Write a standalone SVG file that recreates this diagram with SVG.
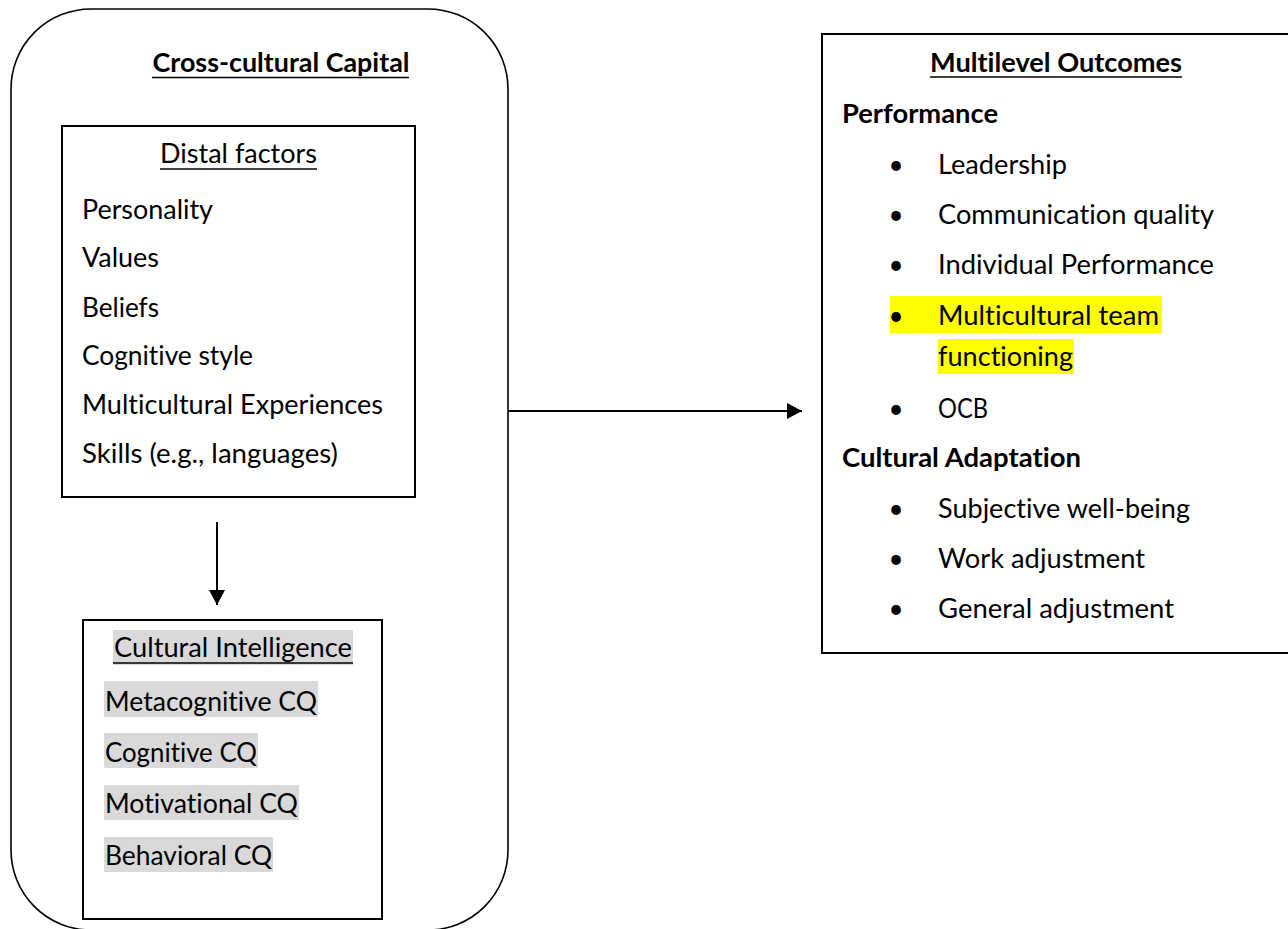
<svg xmlns="http://www.w3.org/2000/svg" width="1288" height="929" viewBox="0 0 1288 929">
<style>
  text { font-family: Lato, "Liberation Sans", sans-serif; font-size: 26px; fill: #000; font-variant-ligatures: none; }
  .b { font-weight: bold; }
  .mid { text-anchor: middle; }
  .box { fill: none; stroke: #000; stroke-width: 2; }
  .ul { stroke: #000; stroke-width: 1.5; }
  .conn { stroke: #000; stroke-width: 2; fill: none; marker-end: url(#arr); }
  .gray { fill: #D9D9D9; }
  .yel { fill: #FFFF00; }
</style>
<defs>
  <marker id="arr" markerUnits="userSpaceOnUse" markerWidth="15" markerHeight="16" refX="15" refY="8" orient="auto">
    <path d="M0,0 L15,8 L0,16 z" fill="#000"/>
  </marker>
</defs>
<rect width="1288" height="929" fill="#fff"/>

<g id="cross-cultural-capital">
  <rect x="11" y="9" width="497" height="921" rx="80" ry="80" fill="none" stroke="#000" stroke-width="1.6"/>
  <text x="281" y="72" class="b mid" textLength="257" lengthAdjust="spacingAndGlyphs">Cross-cultural Capital</text>
  <line x1="152" y1="77.5" x2="409" y2="77.5" class="ul"/>
</g>

<g id="distal-factors">
  <rect x="62" y="126" width="353" height="371" class="box"/>
  <text x="238.5" y="163" class="mid" textLength="157" lengthAdjust="spacingAndGlyphs">Distal factors</text>
  <line x1="160" y1="169" x2="317" y2="169" class="ul"/>
  <text x="82" y="219" textLength="131" lengthAdjust="spacingAndGlyphs">Personality</text>
  <text x="82" y="267" textLength="77" lengthAdjust="spacingAndGlyphs">Values</text>
  <text x="82" y="317" textLength="77" lengthAdjust="spacingAndGlyphs">Beliefs</text>
  <text x="82" y="365" textLength="171" lengthAdjust="spacingAndGlyphs">Cognitive style</text>
  <text x="82" y="414" textLength="301" lengthAdjust="spacingAndGlyphs">Multicultural Experiences</text>
  <text x="82" y="463" textLength="256" lengthAdjust="spacingAndGlyphs">Skills (e.g., languages)</text>
</g>

<g id="cultural-intelligence">
  <rect x="83" y="620" width="299" height="299" class="box"/>
  <rect x="113" y="630" width="240" height="35" class="gray"/>
  <rect x="104" y="681" width="214" height="36" class="gray"/>
  <rect x="104" y="733" width="154" height="35" class="gray"/>
  <rect x="104" y="785" width="195" height="35" class="gray"/>
  <rect x="104" y="837" width="169" height="35" class="gray"/>
  <text x="114" y="657" textLength="238" lengthAdjust="spacingAndGlyphs">Cultural Intelligence</text>
  <line x1="113" y1="663" x2="353" y2="663" class="ul"/>
  <text x="105" y="711" textLength="212" lengthAdjust="spacingAndGlyphs">Metacognitive CQ</text>
  <text x="105" y="762" textLength="152" lengthAdjust="spacingAndGlyphs">Cognitive CQ</text>
  <text x="105" y="813" textLength="193" lengthAdjust="spacingAndGlyphs">Motivational CQ</text>
  <text x="105" y="865" textLength="167" lengthAdjust="spacingAndGlyphs">Behavioral CQ</text>
</g>

<g id="multilevel-outcomes">
  <rect x="822" y="34" width="500" height="619" class="box"/>
  <rect x="890" y="296" width="272" height="37" class="yel"/>
  <rect x="938" y="339" width="136" height="35" class="yel"/>
  <text x="1056" y="72" class="b mid" textLength="252" lengthAdjust="spacingAndGlyphs">Multilevel Outcomes</text>
  <line x1="930" y1="77" x2="1182" y2="77" class="ul"/>
  <text x="842" y="123" class="b" textLength="156" lengthAdjust="spacingAndGlyphs">Performance</text>
  <text x="896" y="174" class="mid">•</text>
  <text x="938" y="174" textLength="129" lengthAdjust="spacingAndGlyphs">Leadership</text>
  <text x="896" y="224" class="mid">•</text>
  <text x="938" y="224" textLength="276" lengthAdjust="spacingAndGlyphs">Communication quality</text>
  <text x="896" y="274" class="mid">•</text>
  <text x="938" y="274" textLength="276" lengthAdjust="spacingAndGlyphs">Individual Performance</text>
  <text x="896" y="325" class="mid">•</text>
  <text x="938" y="325" textLength="221" lengthAdjust="spacingAndGlyphs">Multicultural team</text>
  <text x="938" y="366" textLength="135" lengthAdjust="spacingAndGlyphs">functioning</text>
  <text x="896" y="418" class="mid">•</text>
  <text x="938" y="418" textLength="50" lengthAdjust="spacingAndGlyphs">OCB</text>
  <text x="842" y="467" class="b" textLength="239" lengthAdjust="spacingAndGlyphs">Cultural Adaptation</text>
  <text x="896" y="518" class="mid">•</text>
  <text x="938" y="518" textLength="252" lengthAdjust="spacingAndGlyphs">Subjective well-being</text>
  <text x="896" y="568" class="mid">•</text>
  <text x="938" y="568" textLength="207" lengthAdjust="spacingAndGlyphs">Work adjustment</text>
  <text x="896" y="618" class="mid">•</text>
  <text x="938" y="618" textLength="236" lengthAdjust="spacingAndGlyphs">General adjustment</text>
</g>

<g id="connectors">
  <line x1="217" y1="522" x2="217" y2="605" class="conn"/>
  <line x1="508" y1="411" x2="802" y2="411" class="conn"/>
</g>
</svg>
